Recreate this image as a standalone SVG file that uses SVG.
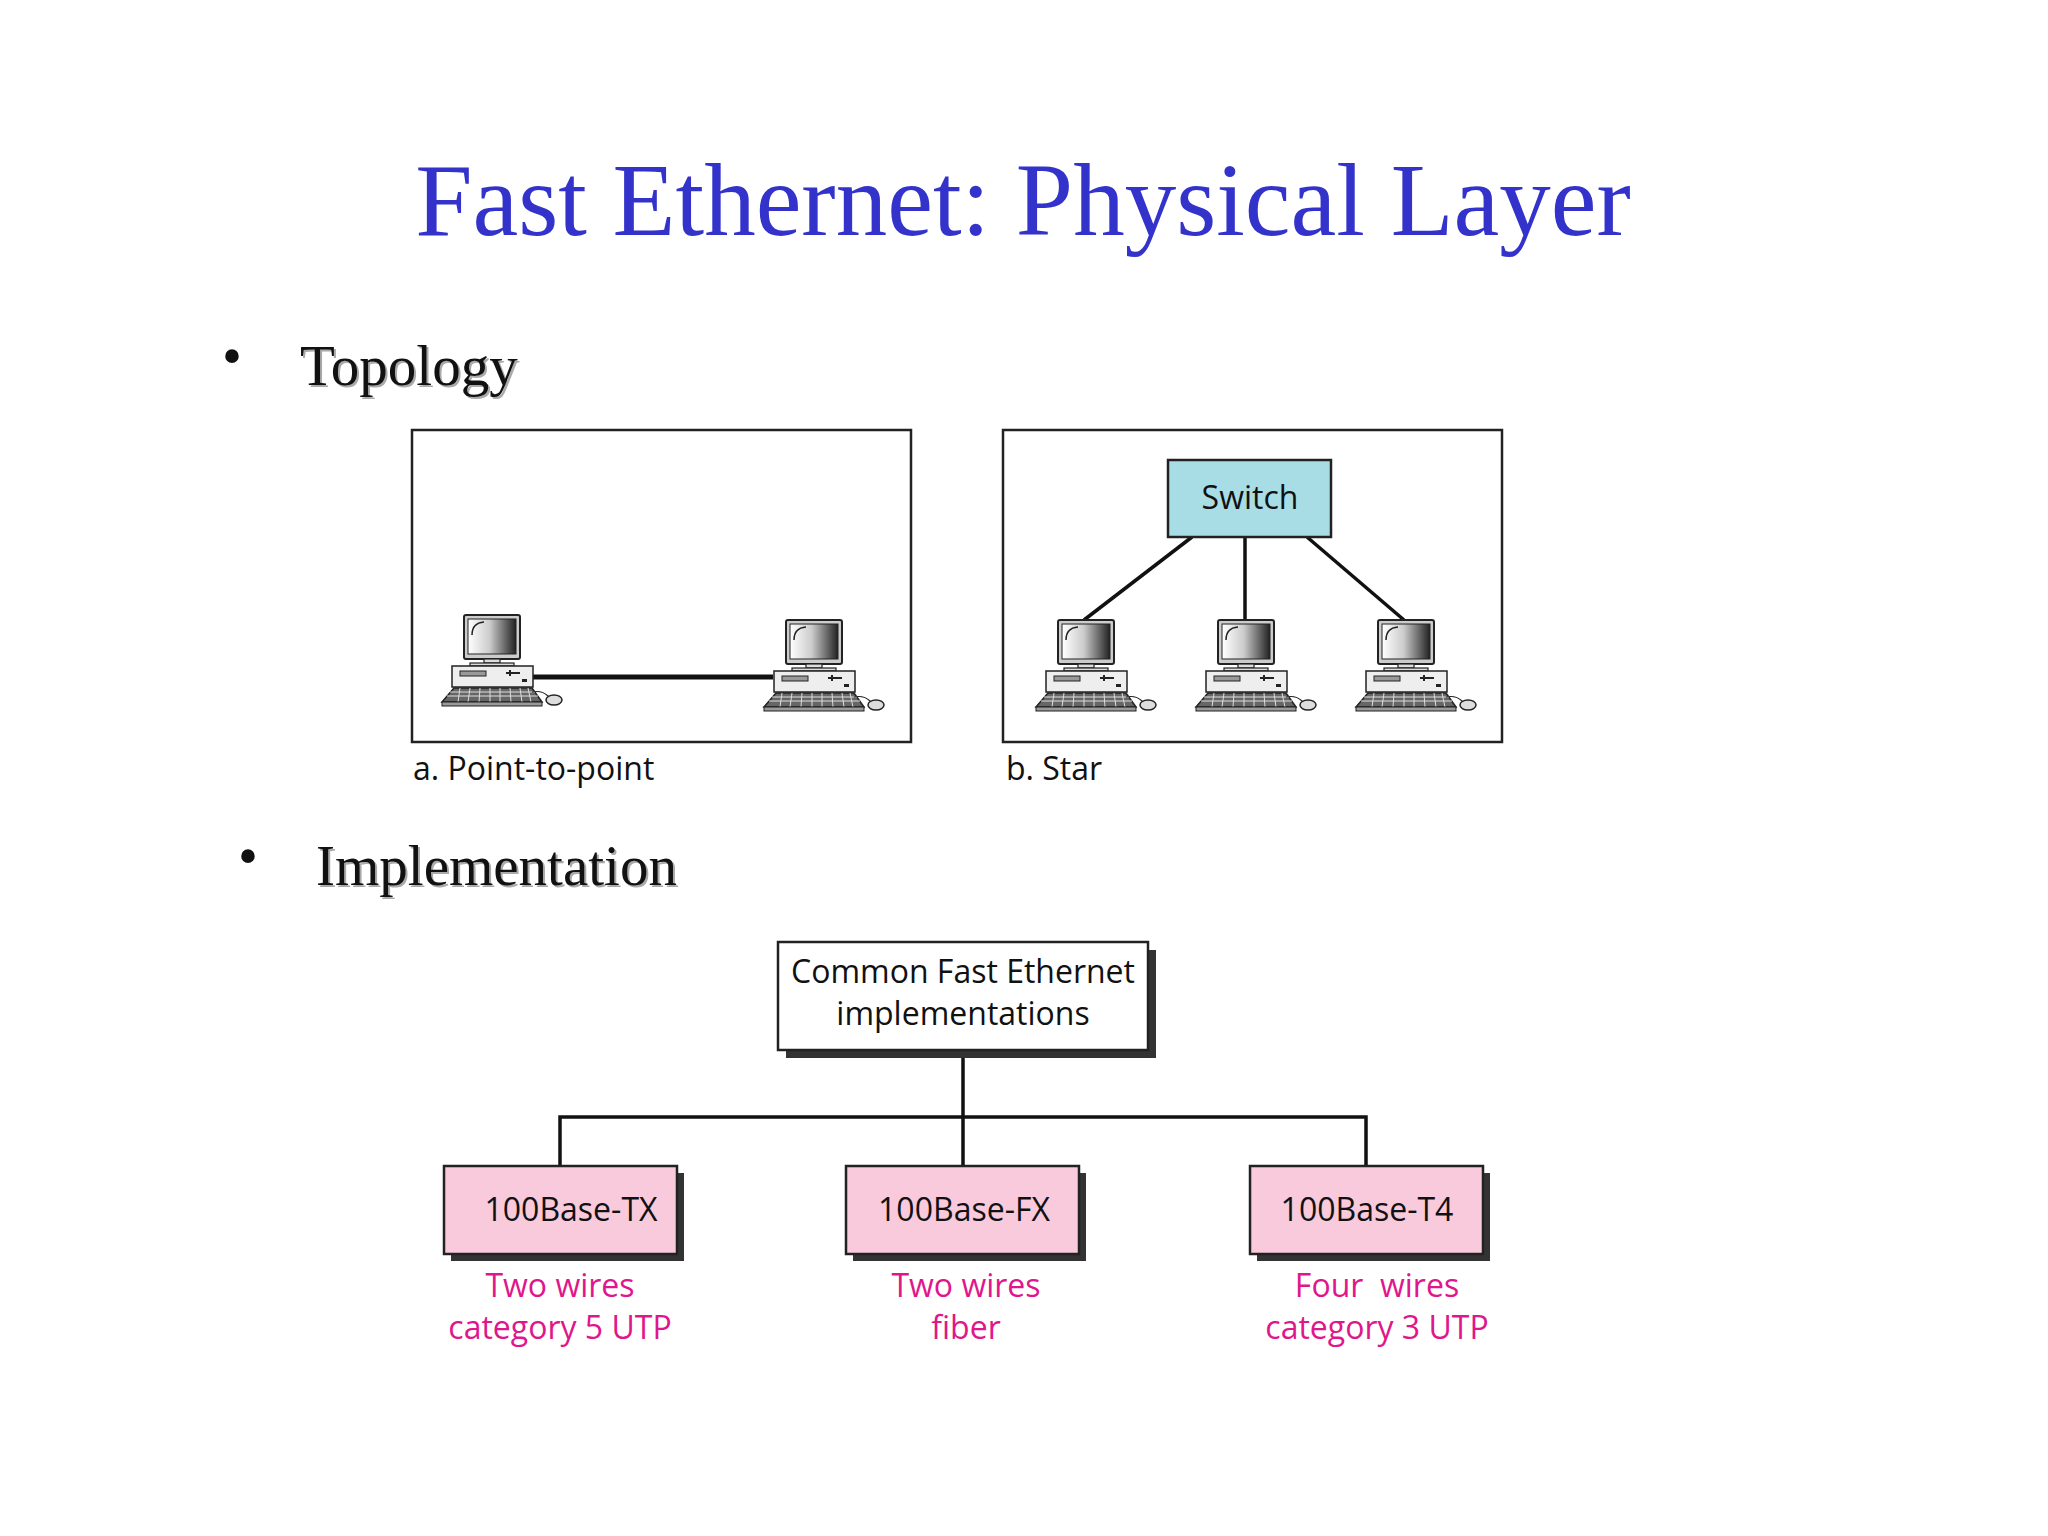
<svg xmlns="http://www.w3.org/2000/svg" width="2048" height="1536" viewBox="0 0 2048 1536">
<style>
.f{font-family:"Open Sans","Liberation Sans",sans-serif}
.bul{font-family:"Liberation Serif",serif;font-size:57px;fill:#111}
.sh{font-family:"Liberation Serif",serif;font-size:57px;fill:#aaa}
.frame{fill:#fff;stroke:#222;stroke-width:2.5}
.pk{fill:#f9c9dc;stroke:#222;stroke-width:2.5}
.shd{fill:#333}
.lbl{font-size:32px;fill:#111;text-anchor:middle}
.pl{font-size:32px;fill:#e0168c;text-anchor:middle}
.ln{stroke:#111;stroke-width:3.5;fill:none}
</style>
<defs>
<linearGradient id="scr" x1="0" x2="1" y1="0" y2="0"><stop offset="0" stop-color="#fff"/><stop offset="0.45" stop-color="#ccc"/><stop offset="1" stop-color="#222"/></linearGradient>
<g id="pc">
<rect x="0" y="0" width="56" height="44" rx="2" fill="#ccc" stroke="#222" stroke-width="2"/>
<rect x="4" y="4" width="48" height="35" fill="url(#scr)" stroke="#222" stroke-width="1"/>
<path d="M8,20 Q8,8 20,7" stroke="#222" stroke-width="1.5" fill="none"/>
<rect x="20" y="44" width="16" height="4" fill="#ddd" stroke="#222" stroke-width="1.2"/>
<rect x="6" y="48" width="44" height="3" fill="#ddd" stroke="#222" stroke-width="1.2"/>
<rect x="-12" y="51" width="81" height="21" fill="#eee" stroke="#222" stroke-width="1.5"/>
<rect x="-4" y="56" width="26" height="5" fill="#999" stroke="#222" stroke-width="1"/>
<path d="M42,58 h14 M46,55 v6" stroke="#222" stroke-width="2"/>
<rect x="58" y="64" width="5" height="3" fill="#222"/>
<path d="M-10,73 L68,73 L78,87 L-22,87 Z" fill="#666" stroke="#222" stroke-width="1.5"/>
<path d="M-14,77 H71 M-17,81 H74 M-4,73 l-2,14 M6,73 l-2,14 M16,73 l-1,14 M26,73 v14 M36,73 v14 M46,73 l1,14 M56,73 l2,14 M64,73 l3,14" stroke="#ddd" stroke-width="1"/>
<rect x="-22" y="87" width="100" height="4" fill="#999" stroke="#222" stroke-width="1"/>
<path d="M68,77 q10,-2 16,4" stroke="#222" stroke-width="1.2" fill="none"/>
<ellipse cx="90" cy="85" rx="8" ry="5" fill="#ddd" stroke="#222" stroke-width="1.5"/>
</g>
</defs>
<rect width="2048" height="1536" fill="#fff"/>
<text x="1023" y="235" font-family="Liberation Serif,serif" font-size="103" fill="#3333cc" text-anchor="middle">Fast Ethernet: Physical Layer</text>
<text x="222" y="375" class="bul">•</text>
<text x="302" y="387" class="sh">Topology</text>
<text x="300" y="385" class="bul">Topology</text>
<text x="238" y="875" class="bul">•</text>
<text x="318" y="887" class="sh">Implementation</text>
<text x="316" y="885" class="bul">Implementation</text>

<g id="ptp">
<rect x="412" y="430" width="499" height="312" class="frame"/>
<line x1="533" y1="677" x2="773" y2="677" stroke="#111" stroke-width="5"/>
<use href="#pc" x="464" y="615"/>
<use href="#pc" x="786" y="620"/>
<text x="413" y="780" class="f" font-size="32" fill="#111">a. Point-to-point</text>
</g>

<g id="star">
<rect x="1003" y="430" width="499" height="312" class="frame"/>
<g id="connectors">
<line x1="1192" y1="537" x2="1084" y2="620" class="ln"/>
<line x1="1245" y1="537" x2="1245" y2="620" class="ln"/>
<line x1="1307" y1="537" x2="1404" y2="620" class="ln"/>
<path d="M963,1050 V1117 M560,1166 V1117 H1366 V1166 M963,1117 V1166" class="ln"/>
</g>
<g id="switch">
<rect x="1168" y="460" width="163" height="77" fill="#a8dde6" stroke="#222" stroke-width="2.5"/>
<text x="1250" y="509" class="f lbl">Switch</text>
</g>
<use href="#pc" x="1058" y="620"/>
<use href="#pc" x="1218" y="620"/>
<use href="#pc" x="1378" y="620"/>
<text x="1006" y="780" class="f" font-size="32" fill="#111">b. Star</text>
</g>

<g id="root">
<rect x="786" y="950" width="370" height="108" class="shd"/>
<rect x="778" y="942" width="370" height="108" class="frame"/>
<text x="963" y="983" class="f lbl">Common Fast Ethernet</text>
<text x="963" y="1025" class="f lbl">implementations</text>
</g>
<g id="tx">
<rect x="451" y="1173" width="233" height="88" class="shd"/>
<rect x="444" y="1166" width="233" height="88" class="pk"/>
<text x="571" y="1221" class="f lbl">100Base-TX</text>
<text x="560" y="1297" class="f pl">Two wires</text>
<text x="560" y="1339" class="f pl">category 5 UTP</text>
</g>
<g id="fx">
<rect x="853" y="1173" width="233" height="88" class="shd"/>
<rect x="846" y="1166" width="233" height="88" class="pk"/>
<text x="964" y="1221" class="f lbl">100Base-FX</text>
<text x="966" y="1297" class="f pl">Two wires</text>
<text x="966" y="1339" class="f pl">fiber</text>
</g>
<g id="t4">
<rect x="1257" y="1173" width="233" height="88" class="shd"/>
<rect x="1250" y="1166" width="233" height="88" class="pk"/>
<text x="1367" y="1221" class="f lbl">100Base-T4</text>
<text x="1377" y="1297" class="f pl" xml:space="preserve">Four  wires</text>
<text x="1377" y="1339" class="f pl">category 3 UTP</text>
</g>
</svg>
